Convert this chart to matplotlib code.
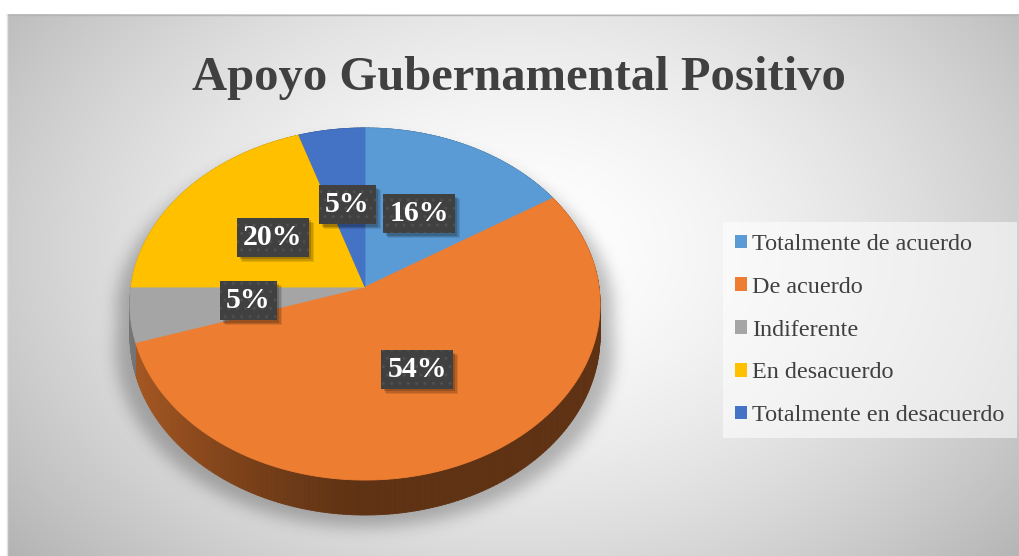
import numpy as np
import matplotlib
matplotlib.use("Agg")
import matplotlib.pyplot as plt
from matplotlib.patches import Polygon, Patch, Rectangle
from matplotlib.collections import PolyCollection
from matplotlib.path import Path

# ---------------- data ----------------
title = "Apoyo Gubernamental Positivo"
categories = ["Totalmente de acuerdo", "De acuerdo", "Indiferente",
              "En desacuerdo", "Totalmente en desacuerdo"]
values = [16, 54, 5, 20, 5]
colors = ["#5B9BD5", "#ED7D31", "#A5A5A5", "#FFC000", "#4472C4"]
pct_labels = [f"{v}%" for v in values]

# ---------------- figure ----------------
W, H = 1019, 556
fig = plt.figure(figsize=(W / 100, H / 100), dpi=100)
fig.patch.set_facecolor("white")
ax = fig.add_axes([0, 0, 1, 1])
ax.set_xlim(0, W)
ax.set_ylim(H, 0)
ax.axis("off")

# chart area radial gradient background
fx0, fy0 = 7, 14
yy, xx = np.mgrid[fy0:H, fx0:W]
r = np.sqrt(((xx - 520) / 600.0) ** 2 + ((yy - 250) / 430.0) ** 2)
g = 255 - 64 * np.clip(r, 0, 1.15) ** 1.6
bg = np.dstack([g, g, g]).astype(np.uint8)
ax.imshow(bg, extent=(fx0, W, H, fy0), zorder=0, interpolation="bilinear", aspect="auto")
ax.plot([fx0, W], [fy0 + 0.5, fy0 + 0.5], color="#b5b5b5", lw=1, zorder=0.5)
ax.plot([fx0 + 0.5, fx0 + 0.5], [fy0, H], color="#e2e2e2", lw=1, zorder=0.5)

# ---------------- 3D pie geometry (perspective projection) ----------------
cx, cy = 365, 287
A, B, k = 234, 174.4, 0.0966
D = 31.6


def proj(rr, th):
    X = rr * np.sin(th)
    Z = rr * np.cos(th)
    w = 1 + k * Z
    return cx + A * X / w, cy - B * Z / w


def depth(th):
    return D / (1 + k * np.cos(th))


fracs = np.array(values, dtype=float) / np.sum(values)
starts = 2 * np.pi * np.concatenate([[0], np.cumsum(fracs)[:-1]])
ends = 2 * np.pi * np.cumsum(fracs)

# soft shadow under the pie
ths = np.linspace(0, 2 * np.pi, 720)
sx, sy = proj(1.0, ths)
front = np.cos(ths) < 0
sy2 = sy + np.where(front, depth(ths), 0)
sil_x = cx + (sx - cx) * 1.06
sil_y = sy2 + 12
path = Path(np.column_stack([sil_x, sil_y]))
gy, gx = np.mgrid[0:H, 0:W]
mask = path.contains_points(np.column_stack([gx.ravel() + 0.5, gy.ravel() + 0.5])).reshape(H, W).astype(float)
sig = 8.0
fy = np.fft.fftfreq(H)[:, None]
fxx = np.fft.fftfreq(W)[None, :]
kern = np.exp(-2 * (np.pi * sig) ** 2 * (fy ** 2 + fxx ** 2))
blur = np.clip(np.real(np.fft.ifft2(np.fft.fft2(mask) * kern)), 0, 1)
shadow = np.zeros((H, W, 4))
shadow[..., 3] = blur * 0.26
ax.imshow(shadow, extent=(0, W, H, 0), zorder=1, interpolation="bilinear", aspect="auto")


def shade(col, f):
    c = np.array(matplotlib.colors.to_rgb(col))
    return tuple(np.clip(c * f, 0, 1))


# side walls
for s, e, col in zip(starts, ends, colors):
    t = np.linspace(s, e, max(int(np.degrees(e - s)), 2) + 1)
    polys, fcs = [], []
    for t0, t1 in zip(t[:-1], t[1:]):
        x0, y0 = proj(1.0, t0)
        x1, y1 = proj(1.0, t1)
        polys.append([(x0, y0), (x1, y1), (x1, y1 + depth(t1)), (x0, y0 + depth(t0))])
        Xm = np.sin((t0 + t1) / 2)
        f = 0.40 + 0.32 * np.clip(-Xm, 0, 1) ** 1.3
        fcs.append(shade(col, f))
    pc = PolyCollection(polys, facecolors=fcs, edgecolors=fcs, linewidths=0.6, zorder=2)
    ax.add_collection(pc)

# top faces
for s, e, col in zip(starts, ends, colors):
    t = np.linspace(s, e, 200)
    px, py = proj(1.0, t)
    pts = np.column_stack([np.concatenate([[cx], px]), np.concatenate([[cy], py])])
    ax.add_patch(Polygon(pts, closed=True, facecolor=col, edgecolor=col, lw=0.6, zorder=3))

# data labels (dark textured boxes)
mids = (starts + ends) / 2
label_texts = []
for m, lab in zip(mids, pct_labels):
    lx, ly = proj(0.5, m)
    txt = ax.text(lx, ly, lab, ha="center", va="center", color="white",
                  fontsize=21.5, fontweight="bold", family="Liberation Serif", zorder=5,
                  bbox=dict(boxstyle="square,pad=0.2", fc="#404040", ec="#4f4f4f",
                            lw=0, hatch=".."))
    label_texts.append(txt)

# title
ax.text(519, 90, title, ha="center", va="baseline", fontsize=35, fontweight="bold",
        family="Liberation Serif", color="#404040", zorder=5)

# legend
handles = [Patch(facecolor=c, edgecolor="none") for c in colors]
leg = ax.legend(handles, categories, loc="upper left",
                bbox_to_anchor=(723 / W, 1 - 222 / H), bbox_transform=fig.transFigure,
                frameon=True, fancybox=False, framealpha=0.55, facecolor="white",
                edgecolor="none", borderaxespad=0, borderpad=0.5,
                handlelength=0.5, handleheight=0.5, handletextpad=0.22,
                labelspacing=0.9,
                prop=dict(family="Liberation Serif", size=17.4))
for t in leg.get_texts():
    t.set_color("#404040")
leg.set_zorder(6)

# drop shadows behind the label boxes (sized from the rendered boxes)
fig.canvas.draw()
inv = ax.transData.inverted()
for txt in label_texts:
    bb = txt.get_bbox_patch().get_window_extent()
    (x0, y0), (x1, y1) = inv.transform([[bb.x0, bb.y0], [bb.x1, bb.y1]])
    xl, xr = min(x0, x1), max(x0, x1)
    yt, yb = min(y0, y1), max(y0, y1)
    for off, al in [(5, 0.10), (4, 0.12), (2.5, 0.18)]:
        ax.add_patch(Rectangle((xl + off, yt + off), xr - xl, yb - yt,
                               facecolor="black", edgecolor="none", alpha=al, zorder=4))

fig.savefig("out.png", dpi=100, facecolor="white")
